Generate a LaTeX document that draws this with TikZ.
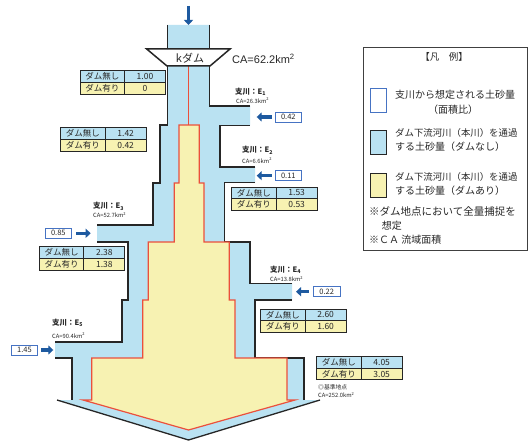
\documentclass[tikz,border=0pt]{standalone}
\usepackage{fontspec}
\setmainfont{Noto Sans CJK JP}
\newfontfamily\arialf{Liberation Sans}
\usetikzlibrary{arrows.meta}
\definecolor{chblue}{RGB}{186,226,242}
\definecolor{chyel}{RGB}{247,242,178}
\definecolor{redl}{RGB}{235,80,60}
\definecolor{arrblue}{RGB}{30,90,160}
\definecolor{boxblue}{RGB}{70,115,195}
\definecolor{txt}{RGB}{40,40,40}
\tikzset{
 outline/.style={line width=1.3pt, draw=black!85, line join=miter},
 redline/.style={line width=1.2pt, draw=redl},
 cellA/.style={draw=black!85, line width=0.9pt, fill=chblue, minimum height=11.7pt, inner sep=0pt, outer sep=0pt, anchor=north west, font=\fontsize{8.5}{9}\selectfont, text=txt},
 cellB/.style={cellA, fill=chyel},
 numbox/.style={draw=boxblue, line width=0.8pt, fill=white, minimum width=26.7pt, minimum height=10pt, inner sep=0pt, font=\fontsize{7.5}{8}\selectfont, text=txt},
 flowarrow/.style={draw=arrblue, line width=3.5pt, -{Triangle[length=5pt,width=9pt]}},
 triblabel/.style={anchor=west, inner sep=0pt, font=\fontsize{7.5}{8}\selectfont\bfseries, text=txt},
 calabel/.style={anchor=west, inner sep=0pt, font=\fontsize{5.8}{6}\selectfont, text=txt},
 legtext/.style={anchor=west, inner sep=0pt, font=\fontsize{10}{11}\selectfont, text=txt},
 swatch/.style={line width=1pt, minimum width=16pt, minimum height=24pt, inner sep=0pt, anchor=north west},
}
\newcommand\damtable[5]{%
 \node[cellA, minimum width=44.5pt] (#1a) at (#2,#3) {ダム無し};
 \node[cellA, minimum width=41pt] (#1b) at (#1a.north east) {#4};
 \node[cellB, minimum width=44.5pt] (#1c) at (#1a.south west) {ダム有り};
 \node[cellB, minimum width=41pt] (#1d) at (#1c.north east) {#5};
}
\begin{document}
\begin{tikzpicture}[x=1pt,y=-1pt]
\fill[white] (0,0) rectangle (530,441);
\useasboundingbox (0,0) rectangle (530,441);
% blue channel
\fill[chblue] (167.5,25) -- (209.5,25) -- (209.5,106) -- (250,106) -- (250,125.5) -- (220,125.5) -- (220,167) -- (255,167) -- (255,182.5) -- (224.5,182.5) -- (224.5,242) -- (250,242) -- (250,283.3) -- (292,283.3) -- (292,300) -- (255,300) -- (255,358) -- (304,358) -- (304,400) -- (320,400) -- (188.5,440) -- (57,400) -- (72,400) -- (72,358) -- (55,358) -- (55,342) -- (122,342) -- (122,300) -- (128,300) -- (128,242) -- (97,242) -- (97,225) -- (153,225) -- (153,183) -- (160,183) -- (160,125) -- (167.5,125) -- cycle;
\draw[outline] (167.5,25) -- (167.5,49);
\draw[outline] (209.5,25) -- (209.5,49);
\draw[outline] (167.5,66) -- (167.5,125) -- (160,125) -- (160,183) -- (153,183) -- (153,225) -- (97,225);
\draw[outline] (97,242) -- (128,242) -- (128,300) -- (122,300) -- (122,342) -- (55,342);
\draw[outline] (55,358) -- (72,358) -- (72,400);
\draw[outline] (57,400) -- (188.5,440) -- (320,400);
\draw[outline] (304,400) -- (304,358) -- (255,358) -- (255,300) -- (292,300);
\draw[outline] (292,283.3) -- (250,283.3) -- (250,242) -- (224.5,242) -- (224.5,182.5) -- (255,182.5);
\draw[outline] (255,167) -- (220,167) -- (220,125.5) -- (250,125.5);
\draw[outline] (250,106) -- (209.5,106) -- (209.5,66);
% yellow
\draw[redline, fill=chyel] (179,125) -- (199.3,125) -- (199.3,183) -- (204,183) -- (204,242) -- (229.3,242) -- (229.3,300) -- (235,300) -- (235,358) -- (287,358) -- (287,400) -- (295,400) -- (188.5,430) -- (83,400) -- (91.7,400) -- (91.7,358) -- (142.7,358) -- (142.7,300) -- (148.3,300) -- (148.3,242) -- (174.3,242) -- (174.3,183) -- (179,183) -- cycle;
\draw[redline] (188.5,66) -- (188.5,125);
% dam
\draw[outline, line width=1.5pt, fill=white] (146.7,49) -- (230,49) -- (210,66) -- (167,66) -- cycle;
\node[inner sep=0pt, font=\fontsize{11}{12}\selectfont, text=txt] (dam) at (190,58) {kダム};
\node[anchor=west, inner sep=0pt, font=\arialf\fontsize{11}{12}\selectfont, text=txt] (damca) at (232,59) {CA=62.2km\textsuperscript{2}};
\coordinate (topin) at (188.5,6);
\coordinate (toptip) at (188.5,25);
\draw[flowarrow] (topin) -- (toptip);
% tables
\damtable{ta}{80}{70.7}{1.00}{0}
\damtable{tb}{60.7}{127.7}{1.42}{0.42}
\damtable{tc}{231.7}{187}{1.53}{0.53}
\damtable{td}{39.3}{246.7}{2.38}{1.38}
\damtable{te}{260.7}{309}{2.60}{1.60}
\damtable{tf}{316.7}{356.5}{4.05}{3.05}
\node[anchor=west, inner sep=0pt, font=\fontsize{5.8}{6}\selectfont, text=txt] (kijun) at (318,387) {◎基準地点};
\node[anchor=west, inner sep=0pt, font=\fontsize{5.8}{6}\selectfont, text=txt] (kijunca) at (318,395) {CA=252.0km\textsuperscript{2}};
% tributaries
\node[triblabel] (e1) at (235,92) {支川：E\textsubscript{1}};
\node[calabel] (e1ca) at (236,100.5) {CA=26.3km\textsuperscript{2}};
\node[triblabel] (e2) at (242,150.5) {支川：E\textsubscript{2}};
\node[calabel] (e2ca) at (242,160.5) {CA=6.6km\textsuperscript{2}};
\node[triblabel] (e3) at (93,206.5) {支川：E\textsubscript{3}};
\node[calabel] (e3ca) at (93,215) {CA=52.7km\textsuperscript{2}};
\node[triblabel] (e4) at (270,270) {支川：E\textsubscript{4}};
\node[calabel] (e4ca) at (270,279) {CA=13.8km\textsuperscript{2}};
\node[triblabel] (e5) at (52,323) {支川：E\textsubscript{5}};
\node[calabel] (e5ca) at (52,335.5) {CA=90.4km\textsuperscript{2}};
% number boxes and arrows
\node[numbox] (n1) at (288.3,117) {0.42};
\coordinate (t1) at (256.7,117);
\draw[flowarrow] (n1.west) ++(-3,0) -- (t1);
\node[numbox] (n2) at (288.3,175.7) {0.11};
\coordinate (t2) at (256.7,175.7);
\draw[flowarrow] (n2.west) ++(-3,0) -- (t2);
\node[numbox] (n3) at (58.3,233.3) {0.85};
\coordinate (t3) at (90.7,233.3);
\draw[flowarrow] (n3.east) ++(4,0) -- (t3);
\node[numbox] (n4) at (326.7,291.7) {0.22};
\coordinate (t4) at (296,291.7);
\draw[flowarrow] (n4.west) ++(-4,0) -- (t4);
\node[numbox] (n5) at (24.5,350) {1.45};
\coordinate (t5) at (53.3,350);
\draw[flowarrow] (n5.east) ++(3,0) -- (t5);
% legend
\node[draw=black!75, line width=1pt, minimum width=163.7pt, minimum height=203.3pt, inner sep=0pt, anchor=north west] (legend) at (363.3,46.7) {};
\node[inner sep=0pt, font=\fontsize{9.5}{10}\selectfont, text=txt] (legtitle) at (444,56.7) {【凡　例】};
\node[swatch, draw=boxblue, fill=white] (sw1) at (370,88.5) {};
\node[swatch, draw=black!85, fill=chblue] (sw2) at (370,130) {};
\node[swatch, draw=black!85, fill=chyel] (sw3) at (370,173) {};
\node[legtext] (l1) at (395,95) {支川から想定される土砂量};
\node[inner sep=0pt, font=\fontsize{10}{11}\selectfont, text=txt] (l2) at (453,110) {（面積比）};
\node[legtext, font=\fontsize{9.4}{10}\selectfont] (l3) at (395,133.3) {ダム下流河川（本川）を通過};
\node[legtext] (l4) at (395,147) {する土砂量（ダムなし）};
\node[legtext, font=\fontsize{9.4}{10}\selectfont] (l5) at (395,177) {ダム下流河川（本川）を通過};
\node[legtext] (l6) at (395,191) {する土砂量（ダムあり）};
\node[legtext, font=\fontsize{10.5}{11}\selectfont] (l7) at (369,211.7) {※ダム地点において全量捕捉を};
\node[legtext] (l8) at (381.7,225.5) {想定};
\node[legtext] (l9) at (369,240) {※ＣＡ 流域面積};
\end{tikzpicture}
\end{document}
